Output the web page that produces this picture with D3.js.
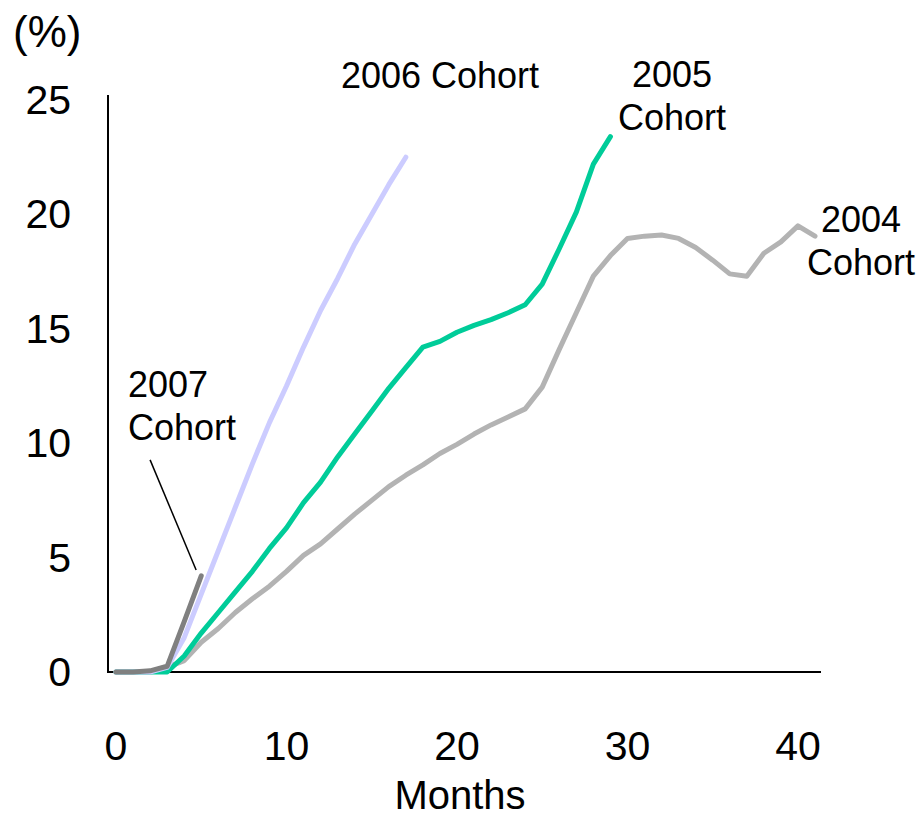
<!DOCTYPE html>
<html>
<head>
<meta charset="utf-8">
<script src="https://cdn.jsdelivr.net/npm/d3@7"></script>
<style>
  html, body { margin: 0; padding: 0; background: #fff; }
  svg { display: block; font-family: "Liberation Sans", Arial, sans-serif; }
</style>
</head>
<body>
<svg id="chart" width="922" height="817"></svg>
<script>
// ---- data ----
const xTicks = [0, 10, 20, 30, 40];
const yTicks = [0, 5, 10, 15, 20, 25];
const xTitle = "Months";
const yTitle = "(%)";

const cohort2004 = [0, 0, 0, 0.2, 0.5, 1.3, 1.9, 2.6, 3.2, 3.75, 4.4, 5.1, 5.6, 6.25, 6.9, 7.5, 8.1, 8.6, 9.05, 9.55, 9.95, 10.4, 10.8, 11.15, 11.5, 12.45, 14.1, 15.7, 17.3, 18.2, 18.95, 19.05, 19.1, 18.95, 18.55, 18.0, 17.4, 17.3, 18.3, 18.8, 19.5, 19.05];
const cohort2005 = [0, 0, 0, 0, 0.7, 1.7, 2.6, 3.5, 4.4, 5.4, 6.3, 7.4, 8.3, 9.4, 10.4, 11.4, 12.4, 13.3, 14.2, 14.45, 14.85, 15.15, 15.4, 15.7, 16.05, 16.95, 18.5, 20.1, 22.2, 23.4];
const cohort2006 = [0, 0, 0, 0.2, 1.5, 3.4, 5.3, 7.2, 9.1, 10.9, 12.5, 14.2, 15.8, 17.2, 18.7, 20.0, 21.3, 22.5];
const cohort2007 = [0, 0, 0.05, 0.25, 2.2, 4.2];

const seriesNames = ["2004 Cohort", "2005 Cohort", "2006 Cohort", "2007 Cohort"];
const seriesValues = [cohort2004, cohort2005, cohort2006, cohort2007];
const seriesColors = ["#b3b3b3", "#00cc99", "#ccccff", "#808080"];

// ---- layout ----
const svg = d3.select("#chart");
const x = d3.scaleLinear().domain([0, 41]).range([116, 815]);
const y = d3.scaleLinear().domain([0, 25]).range([672, 100]);

// axes lines
svg.append("line").attr("x1", 108).attr("x2", 108).attr("y1", 95).attr("y2", 672)
  .attr("stroke", "#000").attr("stroke-width", 2);
svg.append("line").attr("x1", 107).attr("x2", 821).attr("y1", 672).attr("y2", 672)
  .attr("stroke", "#000").attr("stroke-width", 2);

// y ticks labels
svg.append("g").selectAll("text").data(yTicks).join("text")
  .attr("x", 71).attr("y", d => y(d) + 14)
  .attr("text-anchor", "end").attr("font-size", 41).attr("fill", "#000")
  .text(d => d);

// x tick labels
svg.append("g").selectAll("text").data(xTicks).join("text")
  .attr("x", d => x(d)).attr("y", 760)
  .attr("text-anchor", "middle").attr("font-size", 41).attr("fill", "#000")
  .text(d => d);

svg.append("text").attr("x", 460).attr("y", 809).attr("text-anchor", "middle")
  .attr("font-size", 40).text(xTitle);
svg.append("text").attr("x", 13).attr("y", 47).attr("text-anchor", "start")
  .attr("font-size", 44).text(yTitle);

// lines
const line = d3.line().x((d, i) => x(i)).y(d => y(d));
seriesValues.forEach((vals, k) => {
  svg.append("path").datum(vals)
    .attr("d", line)
    .attr("fill", "none")
    .attr("stroke", seriesColors[k])
    .attr("stroke-width", 5)
    .attr("stroke-linejoin", "round")
    .attr("stroke-linecap", "round");
});

// labels
const lbl = (lines, xc, yb, anchor) => {
  lines.forEach((t, i) => {
    svg.append("text").attr("x", xc).attr("y", yb + i * 43)
      .attr("text-anchor", anchor).attr("font-size", 36).attr("fill", "#000").text(t);
  });
};
lbl(["2006 Cohort"], 440, 88, "middle");
lbl(["2005", "Cohort"], 672, 87, "middle");
lbl(["2004", "Cohort"], 861, 232, "middle");
lbl(["2007", "Cohort"], 128, 397, "start");

// leader line for 2007
svg.append("line")
  .attr("x1", x(2.0)).attr("y1", y(9.27))
  .attr("x2", x(4.7)).attr("y2", y(4.46))
  .attr("stroke", "#000").attr("stroke-width", 1.5);
</script>
</body>
</html>
